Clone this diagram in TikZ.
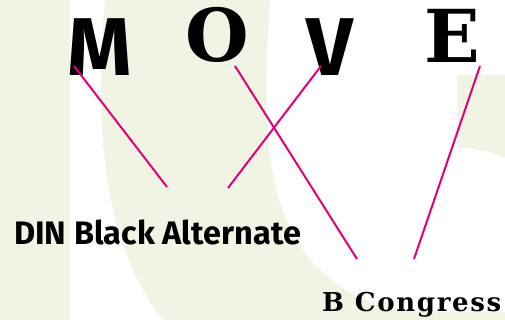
\documentclass[tikz,border=0pt]{standalone}
\usepackage{fontspec}
\usepackage{tikz}
\usetikzlibrary{calc,positioning}
\newfontfamily\dinfont{Fira Sans}
\newfontfamily\congressfont[LetterSpace=6.5]{DejaVu Serif}
\newfontfamily\congresswide{DejaVu Serif}
\definecolor{paleolive}{RGB}{241,244,228}
\definecolor{linkpink}{RGB}{226,0,122}

\begin{document}
\begin{tikzpicture}[x=1pt, y=-1pt, inner sep=0pt,
  bigdin/.style={font=\dinfont\bfseries\fontsize{82}{82}\selectfont, anchor=base},
  bigcongress/.style={font=\congresswide\bfseries\fontsize{73}{73}\selectfont, anchor=base},
  label/.style={anchor=base west},
  link/.style={draw=linkpink, line width=2pt}]
  \useasboundingbox (0,0) rectangle (505,320);
  % background shapes
  \fill[paleolive] (0,0) rectangle (505,320);
  \fill[white] (70,0) -- (105,0) .. controls (95,120) and (100,240) .. (163,320) -- (70,320) -- cycle;
  \fill[white] (270,0) .. controls (264,90) and (262,170) .. (290,228) .. controls (312,274) and (360,312) .. (430,312)
    -- (505,312) -- (505,158) .. controls (490,150) and (470,148) .. (457,148) -- (457,75) -- (505,75) -- (505,0) -- cycle;
  % letters
  \node[bigdin] (m) at (100,76) {M};
  \node[bigcongress] (o) at (217,62) {O};
  \node[bigdin] (v) at (330,76) {V};
  \node[bigcongress] (e) at (452,63) {E};
  % font names
  \node[label, font=\dinfont\bfseries\fontsize{32.5}{32.5}\selectfont] (din) at (14,244) {DIN Black Alternate};
  \node[label, font=\congressfont\bfseries\fontsize{26}{26}\selectfont] (congress) at (322,311) {B Congress};
  % links
  \draw[link] ([xshift=-26pt,yshift=10pt]m.base) -- ([xshift=153pt,yshift=57pt]din.base west);
  \draw[link] ([xshift=-9pt,yshift=10pt]v.base) -- ([xshift=214pt,yshift=56pt]din.base west);
  \draw[link] ([xshift=18pt,yshift=-4pt]o.base) -- ([xshift=35pt,yshift=52pt]congress.base west);
  \draw[link] ([xshift=28pt,yshift=-3pt]e.base) -- ([xshift=92pt,yshift=52pt]congress.base west);
\end{tikzpicture}
\end{document}
